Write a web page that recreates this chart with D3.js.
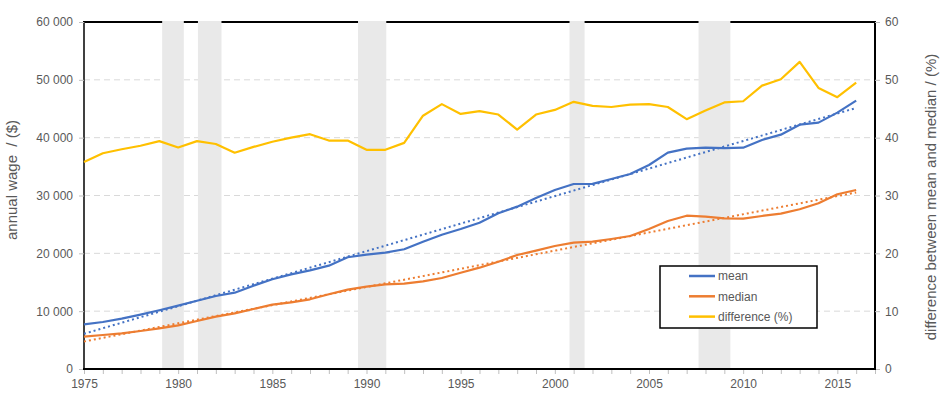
<!DOCTYPE html>
<html>
<head>
<meta charset="utf-8">
<script src="https://cdn.jsdelivr.net/npm/d3@7"></script>
<style>
  body { margin: 0; background: #fff; }
  svg { font-family: "Liberation Sans", Arial, sans-serif; }
  .title { white-space: pre; }
</style>
</head>
<body>
<svg width="943" height="399"></svg>
<script>
// data
const years = d3.range(1975, 2017)
const mean = [7730, 8130, 8700, 9390, 10150, 10950, 11810, 12620, 13200, 14410,
  15510, 16370, 17060, 17870, 19320, 19770, 20110, 20700, 22010, 23220,
  24200, 25300, 26920, 28070, 29570, 30950, 31990, 32000, 32850, 33720,
  35280, 37410, 38100, 38270, 38200, 38270, 39600, 40520, 42250, 42600,
  44330, 46400]
const median = [5590, 5880, 6170, 6570, 7030, 7550, 8300, 9050, 9630, 10380,
  11120, 11530, 12050, 12920, 13720, 14230, 14640, 14750, 15160, 15740,
  16650, 17520, 18550, 19710, 20460, 21270, 21840, 22010, 22480, 23000,
  24210, 25590, 26510, 26340, 26060, 26000, 26460, 26860, 27620, 28650,
  30210, 30950]
const difference = [35.8, 37.3, 38.0, 38.6, 39.4, 38.3, 39.4, 38.9, 37.4, 38.4,
  39.3, 40.0, 40.6, 39.5, 39.5, 37.9, 37.9, 39.1, 43.8, 45.8,
  44.1, 44.6, 44.0, 41.4, 44.0, 44.8, 46.2, 45.5, 45.3, 45.7,
  45.8, 45.3, 43.2, 44.7, 46.1, 46.3, 49.0, 50.1, 53.1, 48.6,
  47.0, 49.5]
const recessions = [[1979.15, 1980.3], [1981.05, 1982.3], [1989.55, 1991.05],
  [2000.78, 2001.58], [2007.63, 2009.32]]
const wageTicks = [0, 10000, 20000, 30000, 40000, 50000, 60000]
const pctTicks = [0, 10, 20, 30, 40, 50, 60]
const yearTicks = [1975, 1980, 1985, 1990, 1995, 2000, 2005, 2010, 2015]

const pLeft = 84, pRight = 875, pTop = 22, pBottom = 369
const grey = '#595959'

const svg = d3.select('svg')

const x = d3.scaleLinear().domain([1975, 2017]).range([pLeft, pRight])
const y = d3.scaleLinear().domain([0, 60000]).range([pBottom, pTop])
const y2 = d3.scaleLinear().domain([0, 60]).range([pBottom, pTop])

// gridlines
svg.append('g')
  .selectAll('line')
  .data(wageTicks.slice(1))
  .join('line')
  .attr('x1', pLeft).attr('x2', pRight)
  .attr('y1', d => y(d)).attr('y2', d => y(d))
  .attr('stroke', '#d9d9d9')
  .attr('stroke-width', 1)
  .attr('stroke-dasharray', '6,4')

// plot box
svg.append('rect')
  .attr('x', pLeft).attr('y', pTop)
  .attr('width', pRight - pLeft).attr('height', pBottom - pTop)
  .attr('fill', 'none')
  .attr('stroke', '#000')
  .attr('stroke-width', 2)
svg.append('line')
  .attr('x1', pLeft).attr('x2', pLeft)
  .attr('y1', pTop).attr('y2', pBottom)
  .attr('stroke', '#404040')
  .attr('stroke-width', 2)

// recession bands (drawn over the top border like the original)
svg.append('g')
  .selectAll('rect')
  .data(recessions)
  .join('rect')
  .attr('x', d => x(d[0]))
  .attr('width', d => x(d[1]) - x(d[0]))
  .attr('y', pTop - 1)
  .attr('height', pBottom - pTop)
  .attr('fill', '#e9e9e9')

// axes
const xAxis = svg.append('g')
  .attr('transform', `translate(0, ${pBottom})`)
  .call(d3.axisBottom(x).tickValues(d3.range(1975, 2018)).tickSize(5).tickFormat(d => yearTicks.includes(d) ? d : ''))
xAxis.select('.domain').remove()
xAxis.selectAll('line').attr('stroke', '#bfbfbf')
xAxis.selectAll('text').attr('fill', grey).attr('font-size', 12).attr('dy', '0.95em')

const yAxis = svg.append('g')
  .attr('transform', `translate(${pLeft}, 0)`)
  .call(d3.axisLeft(y).tickValues(wageTicks).tickSize(5)
    .tickFormat(d => d3.format(',')(d).replace(',', ' ')))
yAxis.select('.domain').remove()
yAxis.selectAll('line').attr('stroke', '#bfbfbf')
yAxis.selectAll('text').attr('fill', grey).attr('font-size', 12).attr('x', -11)

const yAxis2 = svg.append('g')
  .attr('transform', `translate(${pRight}, 0)`)
  .call(d3.axisRight(y2).tickValues(pctTicks).tickSize(5))
yAxis2.select('.domain').remove()
yAxis2.selectAll('line').attr('stroke', '#bfbfbf')
yAxis2.selectAll('text').attr('fill', grey).attr('font-size', 12).attr('x', 10)

// redraw bottom axis line on top
svg.append('line')
  .attr('x1', pLeft - 1).attr('x2', pRight + 1)
  .attr('y1', pBottom).attr('y2', pBottom)
  .attr('stroke', '#000').attr('stroke-width', 2)

// linear trend lines
const trend = function(vals) {
  const mx = d3.mean(years), my = d3.mean(vals)
  let sxy = 0, sxx = 0
  years.forEach((yr, i) => { sxy += (yr - mx) * (vals[i] - my); sxx += (yr - mx) * (yr - mx) })
  const b = sxy / sxx
  return [years[0], years[years.length - 1]].map(yr => [yr, my + b * (yr - mx)])
}

const line = d3.line().x(d => x(d[0])).y(d => y(d[1]))
const line2 = d3.line().x(d => x(d[0])).y(d => y2(d[1]))

svg.append('path')
  .attr('d', line(trend(mean)))
  .attr('fill', 'none').attr('stroke', '#4472c4')
  .attr('stroke-width', 2).attr('stroke-dasharray', '2,3')
svg.append('path')
  .attr('d', line(trend(median)))
  .attr('fill', 'none').attr('stroke', '#ed7d31')
  .attr('stroke-width', 2).attr('stroke-dasharray', '2,3')

const series = [
  { name: 'mean', vals: mean, color: '#4472c4', gen: line },
  { name: 'median', vals: median, color: '#ed7d31', gen: line },
  { name: 'difference (%)', vals: difference, color: '#ffc000', gen: line2 }
]

series.forEach(function(s) {
  svg.append('path')
    .attr('d', s.gen(years.map((yr, i) => [yr, s.vals[i]])))
    .attr('fill', 'none')
    .attr('stroke', s.color)
    .attr('stroke-width', 2.2)
    .attr('stroke-linejoin', 'round')
})

// axis titles
svg.append('text')
  .attr('class', 'title')
  .attr('transform', 'translate(17, 180) rotate(-90)')
  .attr('text-anchor', 'middle')
  .attr('fill', grey)
  .attr('font-size', 15)
  .text('annual wage  / ($)')

svg.append('text')
  .attr('class', 'title')
  .attr('transform', 'translate(936, 197) rotate(-90)')
  .attr('text-anchor', 'middle')
  .attr('fill', grey)
  .attr('font-size', 15)
  .text('difference between mean and median / (%)')

// legend
const legend = svg.append('g')
legend.append('rect')
  .attr('x', 660).attr('y', 266)
  .attr('width', 157).attr('height', 62)
  .attr('fill', '#fff')
  .attr('stroke', '#000')
  .attr('stroke-width', 1.5)

series.forEach(function(s, i) {
  const ly = 276 + i * 20.3
  legend.append('line')
    .attr('x1', 689).attr('x2', 715)
    .attr('y1', ly).attr('y2', ly)
    .attr('stroke', s.color).attr('stroke-width', 2.5)
  legend.append('text')
    .attr('x', 718).attr('y', ly)
    .attr('dy', '0.35em')
    .attr('fill', grey)
    .attr('font-size', 12)
    .text(s.name)
})
</script>
</body>
</html>
